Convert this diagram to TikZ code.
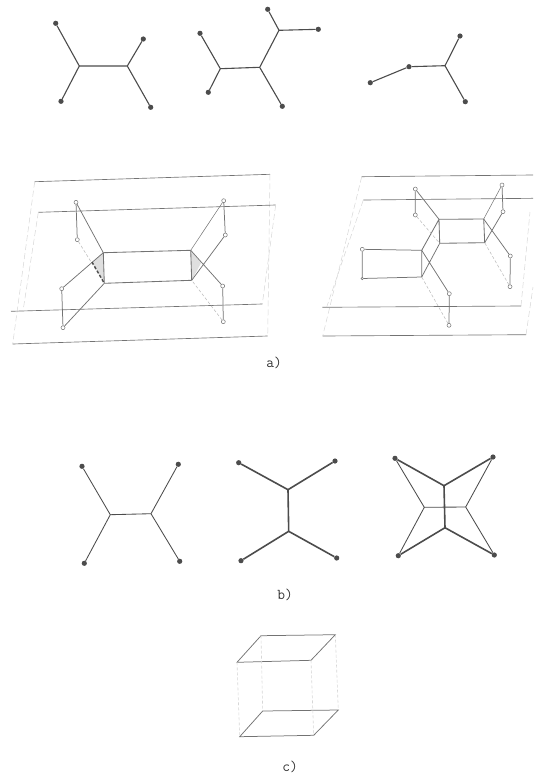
\documentclass[tikz,border=0pt]{standalone}
\definecolor{ink}{gray}{0.3}
\definecolor{inkf}{gray}{0.45}
\definecolor{faint}{gray}{0.74}
\definecolor{vfaint}{gray}{0.84}
\tikzset{
  dotn/.style={circle,fill=ink,draw=none,inner sep=0pt,minimum size=5.2pt},
  ring/.style={circle,fill=white,draw=inkf,line width=0.5pt,inner sep=0pt,minimum size=4pt},
  jn/.style={inner sep=0pt,minimum size=0pt,outer sep=0pt},
  edgeb/.style={draw=ink,line width=1.1pt},
  edgem/.style={draw=ink,line width=0.85pt},
  edgeh/.style={draw=ink,line width=1.6pt},
  wire/.style={draw=inkf,line width=0.75pt},
  wireh/.style={draw=inkf,line width=0.85pt},
  thinw/.style={draw=faint,line width=0.55pt,densely dashed},
  plane/.style={draw=inkf,line width=0.65pt},
  planef/.style={draw=vfaint,line width=0.5pt,dash pattern=on 6pt off 3pt},
  figlabel/.style={font=\ttfamily\fontsize{15}{17}\selectfont,text=black!80,inner sep=0pt},
}
\begin{document}
\begin{tikzpicture}[x=1pt,y=-1pt]
\useasboundingbox (0,0) rectangle (533,774);
% top row trees
\node[dotn] (a1) at (55.7,23.3) {};
\node[dotn] (a2) at (61,101.3) {};
\node[dotn] (a3) at (143.3,39) {};
\node[dotn] (a4) at (150.7,107.3) {};
\node[jn] (aj1) at (79.3,66) {};
\node[jn] (aj2) at (127.3,66) {};
\path[edgeb] (a1)--(aj1) (a2)--(aj1) (aj1)--(aj2) (aj2)--(a3) (aj2)--(a4);
\node[dotn] (b1) at (200,33.3) {};
\node[dotn] (b2) at (208.3,92.3) {};
\node[dotn] (b3) at (282.3,106.3) {};
\node[dotn] (b4) at (267.7,9.3) {};
\node[dotn] (b5) at (318.3,29.3) {};
\node[jn] (bj1) at (220.3,68.7) {};
\node[jn] (bj2) at (259.7,67.3) {};
\node[jn] (bj3) at (279,30.3) {};
\path[edgeb] (b1)--(bj1) (b2)--(bj1) (bj1)--(bj2) (bj2)--(b3) (bj2)--(bj3) (bj3)--(b4) (bj3)--(b5);
\node[dotn] (c1) at (370.3,82.7) {};
\node[dotn] (c2) at (409,66.7) {};
\node[jn] (cj) at (445,65.7) {};
\node[dotn] (c3) at (460,36) {};
\node[dotn] (c4) at (465.3,101.7) {};
\path[edgeb] (c1)--(c2) (c2)--(cj) (cj)--(c3) (cj)--(c4);
% left 3D figure
\coordinate (po1) at (34.7,181.7);
\coordinate (po2) at (270,174.3);
\coordinate (po3) at (267.7,336);
\coordinate (po4) at (12.7,344);
\path[plane] (po1)--(po2) (po4)--(po3);
\path[planef] (po1)--(po4) (po2)--(po3);
\coordinate (pi1) at (38.3,212.3);
\coordinate (pi2) at (275.7,205);
\coordinate (pi3) at (262.3,304);
\coordinate (pi4) at (11,311.3);
\coordinate (pi5) at (23,311);
\path[plane] (pi1)--(pi2) (pi4)--(pi3);
\path[planef] (pi1)--(pi5) (pi2)--(pi3);
\node[jn] (r1) at (103.3,252.7) {};
\node[jn] (r2) at (190.7,250.3) {};
\node[jn] (r3) at (191.7,280.3) {};
\node[jn] (r4) at (104.3,283.3) {};
\node[jn] (st1) at (92,262) {};
\node[jn] (st2) at (201,263) {};
\fill[gray!25] (r1.center)--(r4.center)--(st1.center)--cycle;
\fill[gray!25] (r2.center)--(r3.center)--(st2.center)--cycle;
\node[ring] (l1) at (76,202.3) {};
\node[ring] (l2) at (77.3,239.7) {};
\node[ring] (l3) at (61.7,288.7) {};
\node[ring] (l4) at (63,327.7) {};
\node[ring] (q1) at (223.7,200.7) {};
\node[ring] (q2) at (225.3,235) {};
\node[ring] (q3) at (222.7,286) {};
\node[ring] (q4) at (223.3,321.7) {};
\path[wireh] (r1)--(r2) (r4)--(r3) (r1)--(r4) (r2)--(r3);
\path[wire] (l1)--(r1) (l1)--(l2) (r1)--(l3) (l3)--(l4) (l4)--(r4);
\path[thinw] (l2)--(r4);
\path[wire] (q1)--(q2) (q2)--(r3) (r2)--(q3) (q3)--(q4);
\path[draw=inkf,line width=0.5pt] (q1)--(r2);
\path[thinw] (q4)--(r3);
\path[draw=ink,line width=1.4pt,dash pattern=on 3pt off 2pt] (st1.center)--(r4);
% right 3D figure
\coordinate (so1) at (361.7,176.7);
\coordinate (so2) at (533,175);
\coordinate (so3) at (526,334.7);
\coordinate (so4) at (322.7,336);
\coordinate (so5) at (533,287);
\path[plane] (so1)--(so2) (so4)--(so3);
\path[planef] (so1)--(so4) (so3)--(so5);
\coordinate (si1) at (363.3,200);
\coordinate (si2) at (533,198.3);
\coordinate (si3) at (521,306);
\coordinate (si4) at (322.3,307.3);
\coordinate (si5) at (326.7,307);
\coordinate (si6) at (530,212);
\path[plane] (si1)--(si2) (si4)--(si3);
\path[planef] (si1)--(si5) (si3)--(si6);
\node[jn] (u1) at (439,219.3) {};
\node[jn] (u2) at (483.7,219) {};
\node[jn] (u3) at (484.7,242.7) {};
\node[jn] (u4) at (439.7,243.3) {};
\node[jn] (v1) at (421.7,250.3) {};
\node[jn] (v2) at (421.7,277) {};
\node[ring] (m1) at (415.3,189) {};
\node[ring] (m2) at (415.3,215) {};
\node[ring] (m3) at (502,185) {};
\node[ring] (m4) at (503,211.7) {};
\node[ring] (m5) at (510.3,256) {};
\node[ring] (m6) at (510,286.7) {};
\node[ring] (m7) at (362.3,249.3) {};
\node[ring,minimum size=2.5pt] (m8) at (362.3,278.5) {};
\node[ring] (m9) at (449.3,293.7) {};
\node[ring] (m10) at (449,325.3) {};
\path[wireh] (u1)--(u2) (u4)--(u3) (u1)--(u4) (u2)--(u3) (u1)--(v1) (v1)--(v2);
\path[wire] (m1)--(u1) (m1)--(m2) (m3)--(m4) (m4)--(u3) (u2)--(m5) (m5)--(m6) (u4)--(v2) (v1)--(m7) (m7)--(m8) (m8)--(v2) (v1)--(m9) (m9)--(m10);
\path[thinw] (m2)--(u4) (m6)--(u3) (m10)--(v2);
\path[draw=inkf,line width=0.5pt] (m3)--(u2);
\node[figlabel] (la) at (274,363) {a)};
% middle row
\node[dotn] (d1) at (82,466.3) {};
\node[dotn] (d2) at (84.3,563.3) {};
\node[dotn] (d3) at (178.3,464.3) {};
\node[dotn] (d4) at (179.7,561.3) {};
\node[jn] (dj1) at (110.3,514.7) {};
\node[jn] (dj2) at (151,513.7) {};
\path[edgem] (d1)--(dj1) (d2)--(dj1) (dj1)--(dj2) (dj2)--(d3) (dj2)--(d4);
\node[dotn] (e1) at (238.7,462.7) {};
\node[dotn] (e2) at (335,461) {};
\node[dotn] (e3) at (241,560.7) {};
\node[dotn] (e4) at (336.7,558) {};
\node[jn] (ej1) at (288,489.7) {};
\node[jn] (ej2) at (288.7,531.3) {};
\path[edgeh] (e1)--(ej1) (e2)--(ej1) (ej1)--(ej2) (ej2)--(e3) (ej2)--(e4);
\node[dotn] (f1) at (395,458.3) {};
\node[dotn] (f2) at (493,457) {};
\node[dotn] (f3) at (398.3,555.7) {};
\node[dotn] (f4) at (494.3,555) {};
\node[jn] (fa) at (444,485.7) {};
\node[jn] (fb) at (445,527.7) {};
\node[jn] (fc) at (424.3,507.3) {};
\node[jn] (fd) at (465.7,507) {};
\path[edgem] (f1)--(fc) (f3)--(fc) (fc)--(fd) (fd)--(f2) (fd)--(f4);
\path[edgeh] (f1)--(fa) (f2)--(fa) (fa)--(fb) (fb)--(f3) (fb)--(f4);
\node[figlabel] (lb) at (285,595) {b)};
% cube
\coordinate (h1) at (261,635.7);
\coordinate (h2) at (335.3,634.7);
\coordinate (h3) at (311,660.3);
\coordinate (h4) at (237,662.3);
\coordinate (k1) at (262.7,711);
\coordinate (k2) at (338.3,710);
\coordinate (k3) at (313.7,735.3);
\coordinate (k4) at (239.7,736.7);
\path[wire] (h1)--(h2)--(h3)--(h4)--cycle;
\path[wire] (k1)--(k2)--(k3)--(k4)--cycle;
\path[draw=vfaint,line width=0.6pt,densely dashed] (h1)--(k1) (h2)--(k2) (h3)--(k3) (h4)--(k4);
\node[figlabel] (lc) at (290,767) {c)};
\end{tikzpicture}
\end{document}
